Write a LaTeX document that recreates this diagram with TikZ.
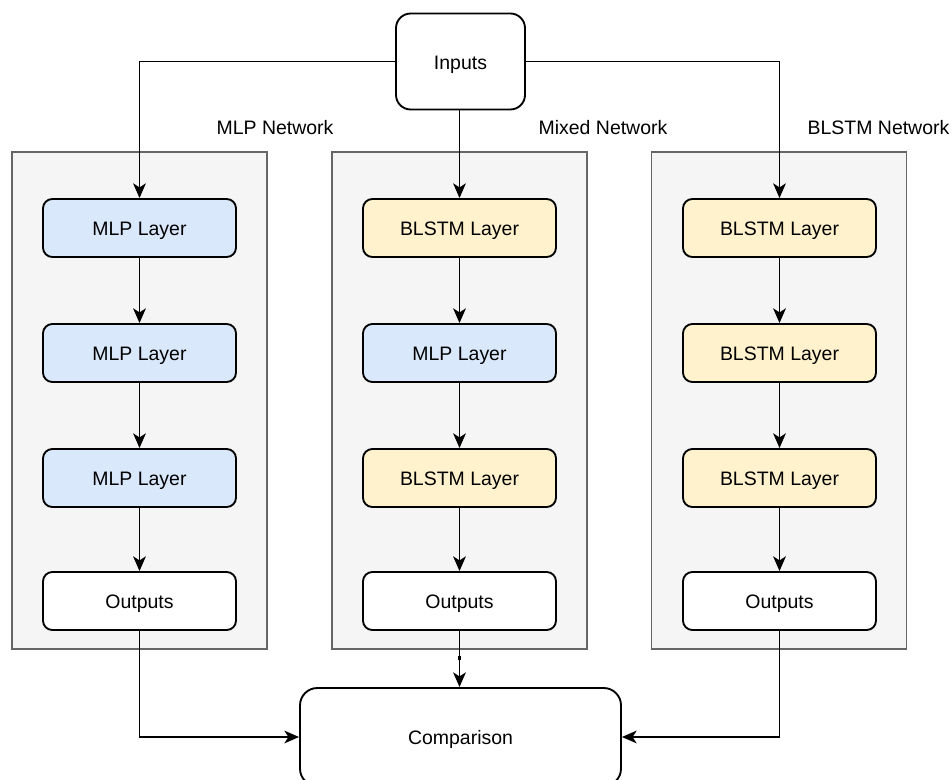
\documentclass[tikz,border=0pt]{standalone}
\usepackage{fontspec}
\setmainfont{Liberation Sans}
\usetikzlibrary{arrows.meta,positioning,calc}
\definecolor{panelfill}{HTML}{F5F5F5}
\definecolor{panelline}{HTML}{666666}
\definecolor{mlpfill}{HTML}{DAE8FC}
\definecolor{blstmfill}{HTML}{FFF2CC}
\begin{document}
\begin{tikzpicture}[x=0.75pt,y=-0.75pt,
  font=\fontsize{14.6}{17}\selectfont,
  panel/.style={draw=panelline,fill=panelfill,line width=1.2pt},
  boxtext/.style={text height=11.5pt,text depth=0pt},
  layer/.style={draw=black,line width=1.4pt,rounded corners=7pt,minimum width=144.75pt,minimum height=43.5pt,inner sep=0pt,boxtext},
  mlp/.style={layer,fill=mlpfill},
  blstm/.style={layer,fill=blstmfill},
  outbox/.style={layer,fill=white},
  conn/.style={draw=black,line width=1.4pt,-{Stealth[length=11pt,width=9.5pt,inset=3pt]}},
  lbl/.style={inner sep=0pt}]
\useasboundingbox (0,0) rectangle (952,780);
% panels
\node[panel,minimum width=191.25pt,minimum height=372.75pt,inner sep=0pt] (pL) at (139.5,400.5) {};
\node[panel,minimum width=191.25pt,minimum height=372.75pt,inner sep=0pt] (pM) at (459.5,400.5) {};
\node[panel,minimum width=191.25pt,minimum height=372.75pt,inner sep=0pt] (pR) at (779,400.5) {};
% labels
\node[lbl] (tL) at (275,127.5) {MLP Network};
\node[lbl] (tM) at (603,127.5) {Mixed Network};
\node[lbl] (tR) at (878.5,127.5) {BLSTM Network};
% inputs
\node[draw=black,line width=1.4pt,rounded corners=11pt,fill=white,minimum width=96.75pt,minimum height=72pt,inner sep=0pt,boxtext] (in) at (460.5,61.5) {Inputs};
% left column
\node[mlp] (l1) at (139.5,228) {MLP Layer};
\node[mlp] (l2) at (139.5,353) {MLP Layer};
\node[mlp] (l3) at (139.5,478) {MLP Layer};
\node[outbox] (l4) at (139.5,601) {Outputs};
% middle column
\node[blstm] (m1) at (459.5,228) {BLSTM Layer};
\node[mlp] (m2) at (459.5,353) {MLP Layer};
\node[blstm] (m3) at (459.5,478) {BLSTM Layer};
\node[outbox] (m4) at (459.5,601) {Outputs};
% right column
\node[blstm] (r1) at (779.5,228) {BLSTM Layer};
\node[blstm] (r2) at (779.5,353) {BLSTM Layer};
\node[blstm] (r3) at (779.5,478) {BLSTM Layer};
\node[outbox] (r4) at (779.5,601) {Outputs};
% comparison
\node[draw=black,line width=1.4pt,rounded corners=13pt,fill=white,minimum width=240.75pt,minimum height=73.5pt,inner sep=0pt,boxtext] (cmp) at (460.5,737) {Comparison};
% connectors
\draw[conn] (in.west) -| (l1.north);
\draw[conn] (in.south -| m1.north) -- (m1.north);
\draw[conn] (in.east) -| (r1.north);
\foreach \c in {l,m,r}{
  \draw[conn] (\c1) -- (\c2);
  \draw[conn] (\c2) -- (\c3);
  \draw[conn] (\c3) -- (\c4);
}
\draw[conn] (l4.south) |- (cmp.west);
\draw[conn] (m4.south) -- (m4.south |- cmp.north);
\draw[conn] (r4.south) |- (cmp.east);
\coordinate (tickA) at (459.5,656);
\coordinate (tickB) at (459.5,660);
\draw[line width=2.6pt] (tickA) -- (tickB);
\end{tikzpicture}
\end{document}
